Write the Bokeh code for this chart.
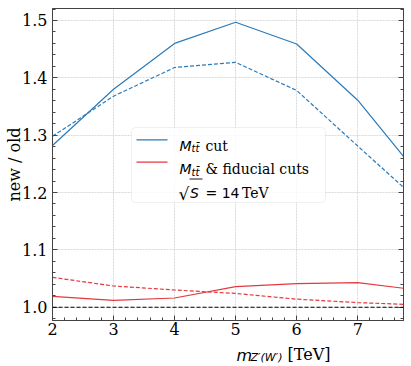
import math
from bokeh.plotting import figure
from bokeh.layouts import column
from bokeh.models import (Range1d, SingleIntervalTicker, PrintfTickFormatter, LinearAxis,
                          Label, Span, BoxAnnotation, Arrow)
from bokeh.embed import file_html
from bokeh.resources import INLINE

# ---- data ----
mass = [2, 3, 4, 5, 6, 7, 7.75]
mtt_new = [1.282, 1.380, 1.460, 1.497, 1.459, 1.361, 1.263]
mtt_old = [1.298, 1.368, 1.418, 1.427, 1.378, 1.281, 1.209]
fid_new = [1.019, 1.012, 1.016, 1.036, 1.041, 1.043, 1.033]
fid_old = [1.052, 1.037, 1.030, 1.024, 1.014, 1.008, 1.005]
reference_level = 1.0

x_tick_step = 1
y_tick_step = 0.1

BLUE = "#2b7bba"
RED = "#e3393e"
SERIF = "DejaVu Serif, serif"
SANS = "DejaVu Sans, sans-serif"
AX = "#444444"

p = figure(width=411, height=343, output_backend="svg", toolbar_location=None,
           x_range=Range1d(2, 7.75), y_range=Range1d(0.9768, 1.5209),
           min_border_left=52, min_border_right=8, min_border_top=8, min_border_bottom=23)
p.background_fill_color = "white"
p.border_fill_color = "white"
p.outline_line_color = AX
p.outline_line_width = 1

for ax, step in ((p.xaxis[0], x_tick_step), (p.yaxis[0], y_tick_step)):
    ax.ticker = SingleIntervalTicker(interval=step, num_minor_ticks=5)
    ax.major_tick_in = 5
    ax.major_tick_out = 0
    ax.minor_tick_in = 3
    ax.minor_tick_out = 0
    ax.major_tick_line_color = AX
    ax.minor_tick_line_color = AX
    ax.axis_line_color = AX
    ax.major_label_text_font = SERIF
    ax.major_label_text_font_size = "16px"
    ax.major_label_text_color = "black"
p.yaxis[0].formatter = PrintfTickFormatter(format="%.1f")
p.xaxis[0].major_label_standoff = 2
p.yaxis[0].major_label_standoff = 5
p.yaxis[0].axis_label = "new / old"
p.yaxis[0].axis_label_text_font = SERIF
p.yaxis[0].axis_label_text_font_size = "16px"
p.yaxis[0].axis_label_text_font_style = "normal"
p.yaxis[0].axis_label_text_color = "black"
p.yaxis[0].axis_label_standoff = -5

right = LinearAxis(ticker=SingleIntervalTicker(interval=y_tick_step, num_minor_ticks=5),
                   major_tick_in=5, major_tick_out=0, minor_tick_in=3, minor_tick_out=0,
                   major_tick_line_color=AX, minor_tick_line_color=AX,
                   axis_line_color=AX, major_label_text_alpha=0,
                   major_label_text_font_size="1px", major_label_standoff=0)
p.add_layout(right, "right")

for g in (p.xgrid[0], p.ygrid[0]):
    g.grid_line_color = "#cfcfcf"
    g.grid_line_dash = "2 1"
    g.grid_line_width = 0.8

# ---- series ----
p.line(mass, mtt_new, line_color=BLUE, line_width=1.2)
p.line(mass, mtt_old, line_color=BLUE, line_width=1.2, line_dash="4 2")
p.line(mass, fid_new, line_color=RED, line_width=1.2)
p.line(mass, fid_old, line_color=RED, line_width=1.2, line_dash="4 2")
p.add_layout(Span(location=reference_level, dimension="width", line_color="black",
                  line_width=1.1, line_dash="4 2"))

# ---- text helpers (page coordinates -> frame-relative screen units) ----
FX, FY = 52, 320

def txt(fig, s, X, Y, ox, oy, font=SERIF, size=16, style="normal", angle=0.0,
        align="left", baseline="alphabetic"):
    fig.add_layout(Label(x=X - ox, y=oy - Y, x_units="screen", y_units="screen", text=s,
                         text_font=font, text_font_size=f"{size}px", text_font_style=style,
                         text_align=align, text_baseline=baseline, angle=angle,
                         text_color="black"))

def seg(X0, Y0, X1, Y1, color, width=1.3):
    p.add_layout(Arrow(end=None, x_start=X0 - FX, y_start=FY - Y0, x_end=X1 - FX, y_end=FY - Y1,
                       start_units="screen", end_units="screen",
                       line_color=color, line_width=width))

# legend
p.add_layout(BoxAnnotation(left=131 - FX, right=325 - FX, top=FY - 127, bottom=FY - 202,
                           left_units="screen", right_units="screen",
                           top_units="screen", bottom_units="screen",
                           fill_color="white", fill_alpha=0.8,
                           line_color="#cccccc", line_width=1, border_radius=4))
seg(136, 139.3, 167, 139.3, BLUE)
seg(136, 161.7, 167, 161.7, RED)
txt(p, "M", 179, 145, FX, FY, font=SANS, size=14, style="italic")
txt(p, "tt\u0304", 191, 148, FX, FY, font=SANS, size=10, style="italic")
txt(p, "cut", 205, 145, FX, FY, size=14)
txt(p, "M", 179, 168.8, FX, FY, font=SANS, size=14, style="italic")
txt(p, "tt\u0304", 191, 171.8, FX, FY, font=SANS, size=10, style="italic")
txt(p, "& fiducial cuts", 205, 168.8, FX, FY, size=14)
txt(p, "\u221a", 178, 193.5, FX, FY, font=SANS, size=17)
seg(189, 178.5, 202, 178.5, "black", 0.9)
txt(p, "S", 189.5, 192.6, FX, FY, font=SANS, size=14, style="italic")
txt(p, "= 14", 205, 192.6, FX, FY, font=SANS, size=14)
txt(p, "TeV", 241.5, 192.6, FX, FY, size=14)

# x-axis title strip (mixed styles), placed directly under the main figure
xl = figure(width=411, height=23, output_backend="svg", toolbar_location=None,
            x_range=Range1d(0, 1), y_range=Range1d(0, 1),
            x_axis_location=None, y_axis_location=None,
            min_border_left=0, min_border_right=0, min_border_top=0, min_border_bottom=0)
xl.outline_line_color = None
xl.grid.visible = False
xl.background_fill_color = "white"
xl.border_fill_color = "white"
OX, OY = 0, 366
txt(xl, "m", 184, 354.5, OX, OY, font=SANS, size=16, style="italic")
txt(xl, "Z\u2032(W\u2032)", 198, 357, OX, OY, font=SANS, size=11, style="italic")
txt(xl, "[TeV]", 235, 353.5, OX, OY)

layout = column(p, xl, spacing=0)
open("out.html", "w").write(file_html(layout, INLINE))
